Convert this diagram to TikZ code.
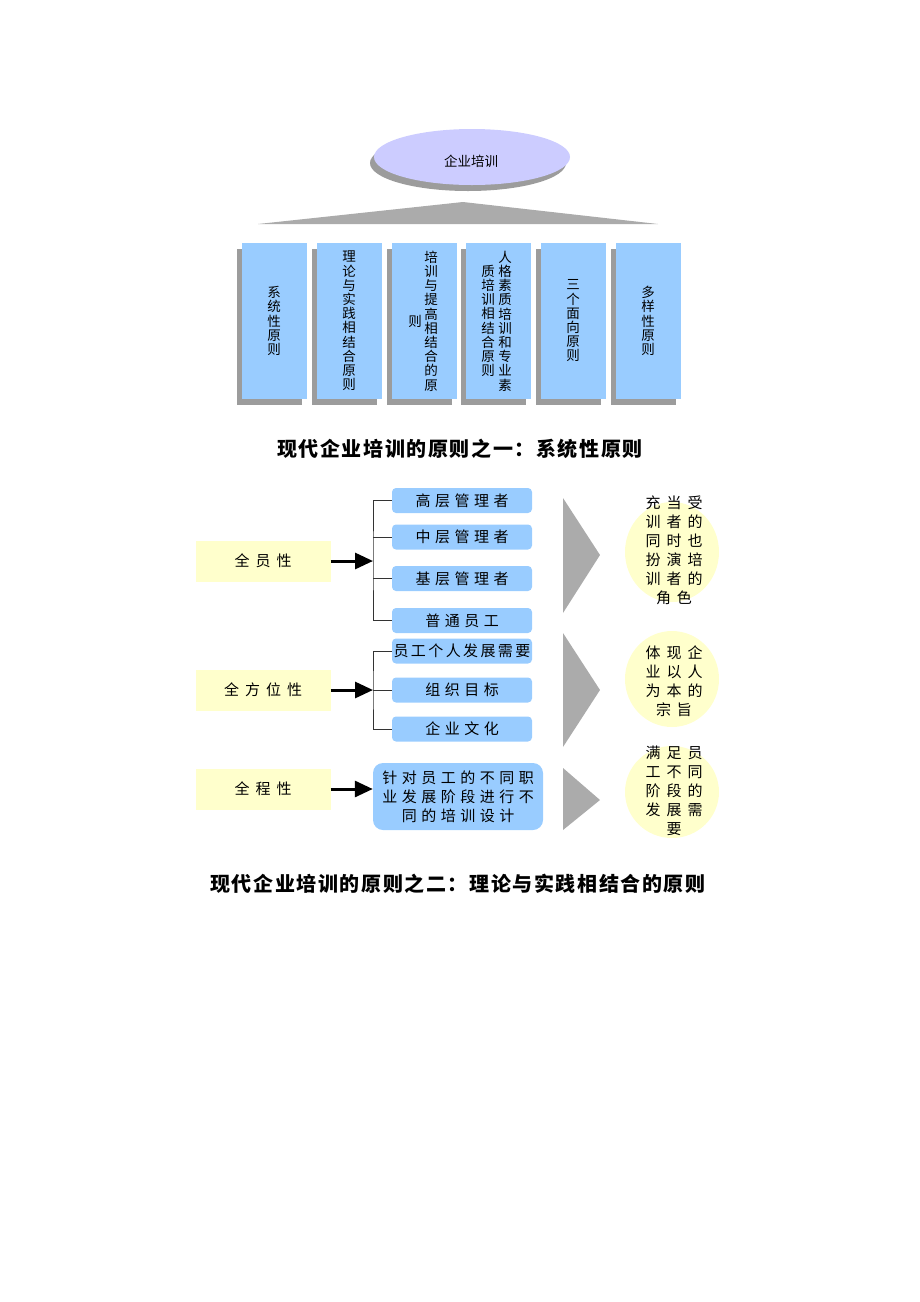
\documentclass[tikz,border=0pt]{standalone}
\usepackage{fontspec}
\usepackage{xcolor}
\usepackage{tikz}
\newfontfamily\cjk{Noto Sans CJK SC}
\newfontfamily\cjkwide[LetterSpace=30]{Noto Sans CJK SC}
\newfontfamily\cjknarrow[LetterSpace=16]{Noto Sans CJK SC}
\newfontfamily\cjkwider[LetterSpace=40]{Noto Sans CJK SC}
\newfontfamily\cjktitle[LetterSpace=8]{Noto Sans CJK SC}
\usetikzlibrary{
    shapes.geometric,
    shadows,
    arrows.meta
}
\definecolor{boxblue}{HTML}{99CCFF}
\definecolor{lav}{HTML}{CCCCFF}
\definecolor{paleyellow}{HTML}{FFFFCC}
\definecolor{shade}{HTML}{9C9C9C}
\definecolor{roofgray}{HTML}{ABABAB}

\begin{document}
\begin{tikzpicture}[x=1pt,y=-1pt,
    vbox/.style={fill=boxblue, minimum width=65pt, minimum height=156pt, inner sep=0pt,
        drop shadow={shadow xshift=-5pt, shadow yshift=-6pt, fill=shade, opacity=1}},
    vcol/.style={align=center, inner sep=0pt, font=\cjk\fontsize{13.5}{14.2}\selectfont},
    sidebox/.style={fill=paleyellow, minimum width=135pt, minimum height=41pt, inner sep=0pt,
        font=\cjkwider\fontsize{15}{16}\selectfont},
    item/.style={fill=boxblue, rounded corners=4pt, minimum width=140pt, minimum height=25pt,
        inner sep=0pt, font=\cjkwide\fontsize{15}{16}\selectfont},
    goalbg/.style={ellipse, fill=paleyellow, inner sep=0pt},
    goaltext/.style={align=center, inner sep=0pt, font=\cjkwider\fontsize{15}{19}\selectfont},
    bigarrow/.style={line width=3pt, -{Triangle[length=18pt,width=16pt]}},
    bracket/.style={line width=1pt, black!80}]
    \useasboundingbox (0,0) rectangle (920,1302);

    % part one: the six principles
    \node [ellipse, fill=lav, minimum width=196pt, minimum height=56pt, inner sep=0pt,
        drop shadow={shadow xshift=-4pt, shadow yshift=-6pt, fill=shade, opacity=1}] (top) at (472,157) {};
    \node [font=\cjk\fontsize{13.5}{15}\selectfont] (toptext) at (471,161) {企业培训};
    \fill [roofgray] (258,224) -- (463,202) -- (658,224) -- cycle;

    \foreach \i/\x in {1/274,2/349,3/424,4/498,5/573,6/648}
        \node [vbox] (p\i) at (\x,321) {};
    \node [vcol] (c1) at (p1) {系\\统\\性\\原\\则};
    \node [vcol] (c2) at (p2) {理\\论\\与\\实\\践\\相\\结\\合\\原\\则};
    \node [vcol] (c3a) at ([xshift=7pt]p3.center) {培\\训\\与\\提\\高\\相\\结\\合\\的\\原};
    \node [vcol] (c3b) at ([xshift=-9pt]p3.center) {则};
    \node [vcol] (c4a) at ([xshift=7pt]p4.center) {人\\格\\素\\质\\培\\训\\和\\专\\业\\素};
    \node [vcol] (c4b) at ([xshift=-10pt]p4.center) {质\\培\\训\\相\\结\\合\\原\\则};
    \node [vcol] (c5) at (p5) {三\\个\\面\\向\\原\\则};
    \node [vcol] (c6) at (p6) {多\\样\\性\\原\\则};

    \node [font=\cjktitle\bfseries\fontsize{20}{22}\selectfont] (cap1) at (460,449)
        {现代企业培训的原则之一：系统性原则};

    % part two: theory and practice
    \node [sidebox] (all1) at (263,561) {全员性};
    \node [sidebox] (all2) at (263,690) {全方位性};
    \node [sidebox] (all3) at (263,789) {全程性};

    \node [item] (g11) at (462,500.5) {高层管理者};
    \node [item] (g12) at (462,537) {中层管理者};
    \node [item] (g13) at (462,578.5) {基层管理者};
    \node [item] (g14) at (462,620.5) {普通员工};
    \node [item, font=\cjknarrow\fontsize{15}{16}\selectfont] (g21) at (462,651) {员工个人发展需要};
    \node [item] (g22) at (462,690) {组织目标};
    \node [item] (g23) at (462,729) {企业文化};
    \node [item, minimum width=170pt, minimum height=67pt, rounded corners=10pt, align=center,
        font=\cjkwide\fontsize{15}{19}\selectfont] (g31) at (458,796.5)
        {针对员工的不同职\\业发展阶段进行不\\同的培训设计};

    \coordinate (j1) at (373,561);
    \coordinate (j2) at (373,690);
    \draw [bracket] (g11.west) -| (j1) |- (g14.west);
    \draw [bracket] (g12.west) -- (g12.west -| j1);
    \draw [bracket] (g13.west) -- (g13.west -| j1);
    \draw [bracket] (g21.west) -| (j2) |- (g23.west);
    \draw [bracket] (g22.west) -- (j2);
    \draw [bigarrow] (all1.east) -- (j1);
    \draw [bigarrow] (all2.east) -- (j2);
    \draw [bigarrow] (all3.east) -- (all3.east -| g31.west);

    \fill [roofgray] (563,498) -- (600,555) -- (563,613) -- cycle;
    \fill [roofgray] (563,633) -- (600,690) -- (563,747) -- cycle;
    \fill [roofgray] (563,768) -- (600,800) -- (563,830) -- cycle;

    \node [goalbg, minimum width=94pt, minimum height=100pt] (goal1) at (672,552) {};
    \node [goalbg, minimum width=94pt, minimum height=96pt] (goal2) at (672,679) {};
    \node [goalbg, minimum width=94pt, minimum height=92pt] (goal3) at (672,792) {};
    \node [goaltext] (t1) at (674,550) {充当受\\训者的\\同时也\\扮演培\\训者的\\角色};
    \node [goaltext] (t2) at (674,681) {体现企\\业以人\\为本的\\宗旨};
    \node [goaltext] (t3) at (674,791) {满足员\\工不同\\阶段的\\发展需\\要};

    \node [font=\cjktitle\bfseries\fontsize{20}{22}\selectfont] (cap2) at (458,884)
        {现代企业培训的原则之二：理论与实践相结合的原则};
\end{tikzpicture}
\end{document}
